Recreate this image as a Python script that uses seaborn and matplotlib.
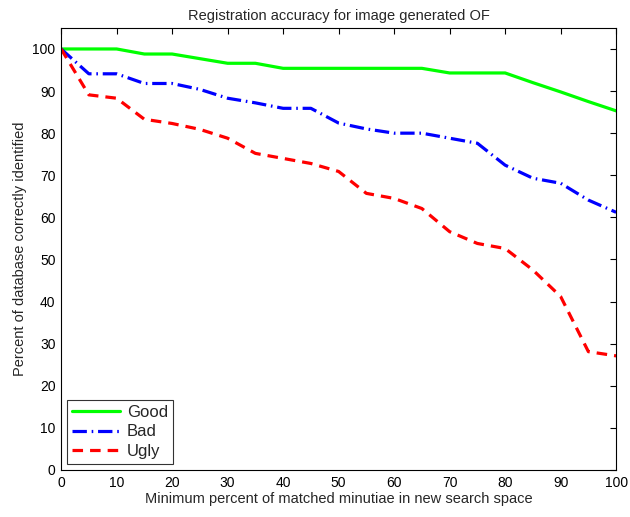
import pandas as pd
import matplotlib
matplotlib.use('Agg')
import matplotlib.pyplot as plt
import seaborn as sns

# Data
min_percent = [0, 5, 10, 15, 20, 25, 30, 35, 40, 45, 50,
               55, 60, 65, 70, 75, 80, 85, 90, 95, 100]
good = [100, 100, 100, 98.8, 98.8, 97.7, 96.6, 96.6, 95.4, 95.4, 95.4,
        95.4, 95.4, 95.4, 94.3, 94.3, 94.3, 92.0, 89.8, 87.5, 85.3]
bad = [100, 94.1, 94.1, 91.8, 91.8, 90.4, 88.3, 87.2, 85.9, 85.9, 82.4,
       81.0, 80.0, 80.0, 78.8, 77.6, 72.4, 69.3, 68.1, 64.1, 61.2]
ugly = [100, 89.1, 88.3, 83.3, 82.3, 80.9, 78.8, 75.2, 74.0, 72.8, 70.9,
        65.7, 64.5, 62.1, 56.6, 53.8, 52.6, 47.5, 41.2, 28.1, 27.1]
series_names = ['Good', 'Bad', 'Ugly']

df = pd.DataFrame({
    'x': min_percent * 3,
    'y': good + bad + ugly,
    'Series': [n for n in series_names for _ in min_percent],
})

sns.set_style('white')
plt.rcParams['font.family'] = ['Liberation Sans', 'DejaVu Sans']

fig = plt.figure(figsize=(6.3, 5.17), dpi=100)
ax = fig.add_axes([0.097, 0.091, 0.881, 0.855])

sns.lineplot(data=df, x='x', y='y', hue='Series', style='Series',
             palette={'Good': '#00ff00', 'Bad': '#0000ff', 'Ugly': '#ff0000'},
             dashes={'Good': '', 'Bad': (4.5, 1.5, 0.5, 1.5), 'Ugly': (3.3, 2.2)},
             linewidth=2.3, ax=ax)

ax.set_xlim(0, 100)
ax.set_ylim(0, 105)
ax.set_xticks(range(0, 101, 10))
ax.set_yticks(range(0, 101, 10))
ax.tick_params(direction='in', top=True, right=True, length=4, width=0.8,
               labelsize=10, colors='black', pad=4)
for s in ax.spines.values():
    s.set_color('black')
    s.set_linewidth(0.8)

ax.set_title('Registration accuracy for image generated OF', fontsize=10.5, pad=6)
ax.set_xlabel('Minimum percent of matched minutiae in new search space', fontsize=10.5, labelpad=2)
ax.set_ylabel('Percent of database correctly identified', fontsize=10.5, labelpad=4)

leg = ax.legend(loc='lower left', fontsize=12, frameon=True, fancybox=False,
                edgecolor='black', borderaxespad=0.35, handlelength=2.9,
                labelspacing=0.28, borderpad=0.3, handletextpad=0.4)
leg.get_frame().set_linewidth(0.8)
leg.set_title(None)

plt.savefig('out.png', dpi=100)
plt.close()
